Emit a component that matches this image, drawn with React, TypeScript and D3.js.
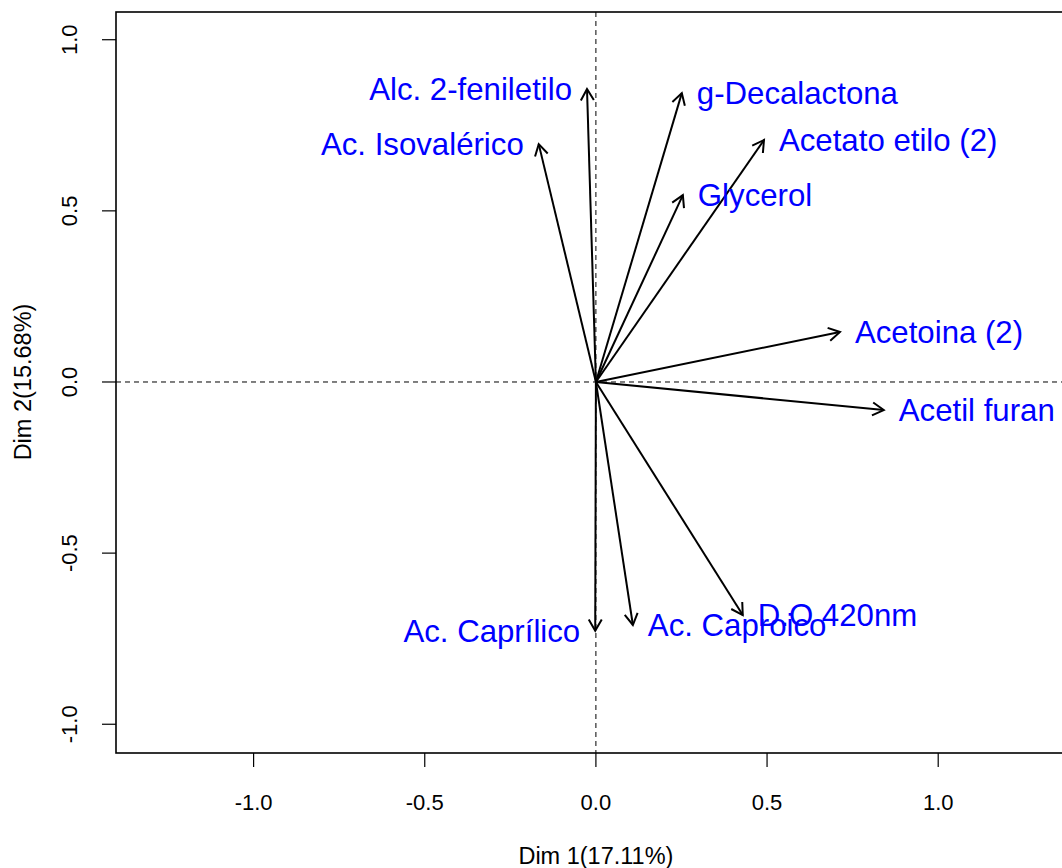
import React from "react";
import * as d3 from "d3";

const variables = [
  "Alc. 2-feniletilo",
  "Ac. Isovalérico",
  "g-Decalactona",
  "Acetato etilo (2)",
  "Glycerol",
  "Acetoina (2)",
  "Acetil furan",
  "D.O 420nm",
  "Ac. Caproico",
  "Ac. Caprílico",
];
const dim1 = [-0.026, -0.167, 0.251, 0.491, 0.254, 0.713, 0.841, 0.429, 0.108, -0.002];
const dim2 = [0.856, 0.695, 0.844, 0.707, 0.546, 0.146, -0.082, -0.681, -0.71, -0.727];
const xTicks = [-1.0, -0.5, 0.0, 0.5, 1.0];
const yTicks = [-1.0, -0.5, 0.0, 0.5, 1.0];
const xTitle = "Dim 1(17.11%)";
const yTitle = "Dim 2(15.68%)";

const W = 1062;
const H = 868;
const left = 116;
const top = 12;
const bottom = 753;
const xDomain: [number, number] = [-1.402, 1.402];
const yDomain: [number, number] = [-1.084, 1.081];

const fmt = (t: number) => t.toFixed(1);

export default function App() {
  const x = d3.scaleLinear().domain(xDomain).range([left, left + 2 * 1.402 * 342.3]);
  const y = d3.scaleLinear().domain(yDomain).range([bottom, top]);
  const right = x(xDomain[1]);
  const font = "'Liberation Sans', Arial, sans-serif";
  const headLen = 13;
  const headAng = Math.PI / 6;

  return (
    <div style={{ position: "fixed", left: 0, top: 0, width: W, height: H, background: "#fff" }}>
      <svg width={W} height={H} style={{ display: "block" }}>
        <rect x={0} y={0} width={W} height={H} fill="#fff" />
        <line x1={left} x2={right} y1={y(0)} y2={y(0)} stroke="#000" strokeWidth={1} strokeDasharray="5,4" />
        <line x1={x(0)} x2={x(0)} y1={top} y2={bottom} stroke="#000" strokeWidth={1} strokeDasharray="5,4" />
        {variables.map((v, i) => {
          const x0 = x(0), y0 = y(0);
          const x1 = x(dim1[i]), y1 = y(dim2[i]);
          const a = Math.atan2(y1 - y0, x1 - x0);
          const h1x = x1 - headLen * Math.cos(a - headAng);
          const h1y = y1 - headLen * Math.sin(a - headAng);
          const h2x = x1 - headLen * Math.cos(a + headAng);
          const h2y = y1 - headLen * Math.sin(a + headAng);
          return (
            <g key={v}>
              <line x1={x0} y1={y0} x2={x1} y2={y1} stroke="#000" strokeWidth={2} />
              <path d={`M${h1x},${h1y}L${x1},${y1}L${h2x},${h2y}`} fill="none" stroke="#000" strokeWidth={2} />
            </g>
          );
        })}
        {variables.map((v, i) => {
          const px = x(dim1[i]);
          const py = y(dim2[i]);
          const rightSide = dim1[i] >= 0;
          return (
            <text
              key={"l" + v}
              x={rightSide ? px + 15 : px - 15}
              y={py + 11}
              textAnchor={rightSide ? "start" : "end"}
              fontFamily={font}
              fontSize={31.2}
              fill="#0000FF"
            >
              {v}
            </text>
          );
        })}
        <rect x={left} y={top} width={right - left} height={bottom - top} fill="none" stroke="#000" strokeWidth={1.6} />
        {xTicks.map((t) => (
          <g key={"xt" + t}>
            <line x1={x(t)} x2={x(t)} y1={bottom} y2={bottom + 14} stroke="#000" strokeWidth={1.2} />
            <text x={x(t)} y={810} textAnchor="middle" fontFamily={font} fontSize={22} fill="#000">
              {fmt(t)}
            </text>
          </g>
        ))}
        {yTicks.map((t) => (
          <g key={"yt" + t}>
            <line x1={left - 14} x2={left} y1={y(t)} y2={y(t)} stroke="#000" strokeWidth={1.2} />
            <text
              transform={`translate(77,${y(t)}) rotate(-90)`}
              textAnchor="middle"
              fontFamily={font}
              fontSize={22}
              fill="#000"
            >
              {fmt(t)}
            </text>
          </g>
        ))}
        <text x={x(0)} y={864} textAnchor="middle" fontFamily={font} fontSize={23.5} fill="#000">
          {xTitle}
        </text>
        <text
          transform={`translate(31,${y(0)}) rotate(-90)`}
          textAnchor="middle"
          fontFamily={font}
          fontSize={23.5}
          fill="#000"
        >
          {yTitle}
        </text>
      </svg>
    </div>
  );
}
